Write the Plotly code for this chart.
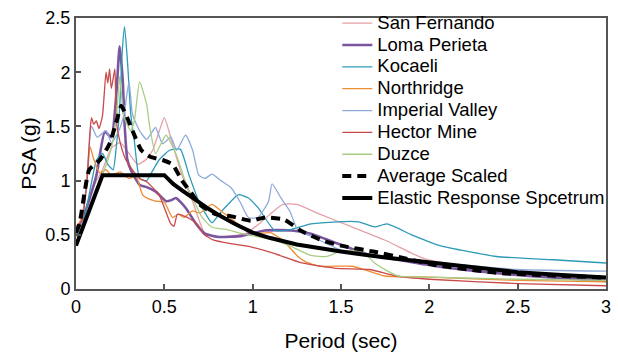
import plotly.graph_objects as go

# ---------------- data ----------------
sf_T = [0, 0.05, 0.1, 0.15, 0.2, 0.25, 0.3, 0.35, 0.4, 0.434, 0.47, 0.5, 0.546, 0.6, 0.66, 0.73, 0.8, 0.88, 0.96, 1.05, 1.17, 1.25, 1.38, 1.565, 1.75, 1.9, 1.99, 2.25, 2.5, 3.0]
sf_v = [0.55, 0.7, 0.95, 1.1, 1.3, 1.35, 1.25, 1.15, 1.2, 1.28, 1.45, 1.58, 1.34, 1.05, 0.81, 0.51, 0.48, 0.49, 0.51, 0.62, 0.78, 0.78, 0.69, 0.57, 0.45, 0.33, 0.27, 0.2, 0.15, 0.10]

lp_T = [0, 0.04, 0.08, 0.116, 0.163, 0.2, 0.228, 0.247, 0.265, 0.275, 0.29, 0.31, 0.36, 0.40, 0.45, 0.51, 0.54, 0.565, 0.62, 0.68, 0.73, 0.81, 0.94, 1.07, 1.22, 1.33, 1.48, 1.65, 1.82, 2.04, 2.3, 2.56, 3.0]
lp_v = [0.50, 0.66, 0.85, 1.05, 1.45, 1.40, 1.79, 2.24, 1.91, 1.52, 1.20, 1.10, 0.96, 0.94, 0.90, 0.81, 0.82, 0.84, 0.75, 0.60, 0.51, 0.48, 0.49, 0.54, 0.54, 0.51, 0.42, 0.32, 0.27, 0.21, 0.16, 0.12, 0.075]

ko_T = [0, 0.03, 0.06, 0.09, 0.116, 0.15, 0.18, 0.21, 0.228, 0.247, 0.262, 0.275, 0.293, 0.31, 0.33, 0.36, 0.40, 0.43, 0.47, 0.53, 0.59, 0.64, 0.695, 0.77, 0.81, 0.86, 0.92, 0.976, 1.03, 1.125, 1.22, 1.33, 1.48, 1.6, 1.69, 1.76, 1.9, 2.06, 2.38, 2.7, 3.0]
ko_v = [0.5, 0.55, 0.75, 1.0, 1.19, 1.25, 1.15, 1.1, 1.31, 1.67, 2.2, 2.42, 2.06, 1.61, 1.37, 1.02, 1.0, 1.08, 1.19, 1.28, 1.29, 1.05, 0.81, 0.61, 0.69, 0.78, 0.87, 0.84, 0.75, 0.54, 0.55, 0.60, 0.62, 0.62, 0.573, 0.60, 0.50, 0.40, 0.30, 0.27, 0.24]

nr_T = [0, 0.03, 0.06, 0.08, 0.1, 0.135, 0.17, 0.2, 0.25, 0.3, 0.34, 0.376, 0.40, 0.45, 0.5, 0.546, 0.58, 0.61, 0.66, 0.70, 0.77, 0.82, 0.87, 0.95, 1.01, 1.10, 1.17, 1.256, 1.30, 1.38, 1.565, 1.75, 2.0, 2.5, 3.0]
nr_v = [0.55, 0.65, 0.95, 1.31, 1.2, 1.07, 1.1, 1.05, 1.08, 1.02, 1.04, 0.87, 0.84, 0.81, 0.80, 0.66, 0.69, 0.66, 0.72, 0.70, 0.78, 0.72, 0.66, 0.56, 0.51, 0.52, 0.45, 0.30, 0.25, 0.21, 0.21, 0.12, 0.11, 0.08, 0.065]

iv_T = [0, 0.03, 0.06, 0.088, 0.12, 0.17, 0.2, 0.24, 0.27, 0.30, 0.32, 0.36, 0.40, 0.45, 0.49, 0.537, 0.57, 0.62, 0.66, 0.695, 0.73, 0.77, 0.82, 0.88, 0.93, 0.976, 1.03, 1.09, 1.11, 1.16, 1.21, 1.256, 1.34, 1.5, 1.75, 2.0, 2.5, 3.0]
iv_v = [0.55, 0.6, 1.0, 1.50, 1.40, 1.46, 1.35, 1.45, 1.6, 1.91, 1.61, 1.46, 1.38, 1.49, 1.34, 1.40, 1.28, 1.42, 1.28, 1.05, 1.02, 1.06, 1.0, 0.93, 0.8, 0.66, 0.66, 0.81, 0.97, 0.84, 0.72, 0.54, 0.48, 0.36, 0.30, 0.25, 0.18, 0.165]

hm_T = [0, 0.03, 0.06, 0.079, 0.088, 0.1, 0.115, 0.13, 0.15, 0.17, 0.18, 0.19, 0.2, 0.22, 0.228, 0.25, 0.28, 0.32, 0.36, 0.40, 0.47, 0.5, 0.537, 0.555, 0.574, 0.63, 0.686, 0.72, 0.78, 0.87, 0.985, 1.116, 1.28, 1.47, 1.66, 1.81, 2.0, 2.5, 3.0]
hm_v = [0.58, 0.62, 0.95, 1.45, 1.58, 1.52, 1.55, 1.48, 1.6, 2.0, 1.9, 2.03, 1.85, 2.03, 1.55, 1.35, 1.2, 1.1, 1.02, 0.99, 0.87, 0.75, 0.60, 0.58, 0.69, 0.66, 0.60, 0.51, 0.45, 0.42, 0.39, 0.33, 0.24, 0.19, 0.18, 0.12, 0.09, 0.05, 0.03]

dz_T = [0, 0.05, 0.1, 0.15, 0.2, 0.23, 0.247, 0.27, 0.31, 0.33, 0.36, 0.40, 0.415, 0.45, 0.49, 0.51, 0.565, 0.62, 0.714, 0.77, 0.85, 0.94, 1.125, 1.22, 1.33, 1.42, 1.5, 1.62, 1.69, 1.82, 2.0, 2.5, 3.0]
dz_v = [0.48, 0.6, 0.85, 1.05, 1.3, 1.6, 1.96, 1.6, 1.46, 1.55, 1.91, 1.70, 1.52, 1.25, 1.37, 1.42, 1.25, 0.99, 0.66, 0.57, 0.55, 0.51, 0.45, 0.39, 0.31, 0.30, 0.35, 0.35, 0.24, 0.12, 0.11, 0.09, 0.08]

avg_T = [0, 0.02, 0.075, 0.135, 0.19, 0.23, 0.256, 0.29, 0.32, 0.37, 0.42, 0.49, 0.546, 0.6, 0.66, 0.7, 0.79, 0.88, 0.99, 1.07, 1.18, 1.27, 1.39, 1.5, 1.69, 1.87, 2.04, 2.38, 3.0]
avg_v = [0.52, 0.6, 1.10, 1.19, 1.34, 1.55, 1.69, 1.58, 1.46, 1.28, 1.22, 1.19, 1.15, 1.0, 0.87, 0.78, 0.69, 0.67, 0.63, 0.66, 0.64, 0.54, 0.45, 0.40, 0.343, 0.28, 0.22, 0.15, 0.105]

el_T = [0, 0.15, 0.5, 0.55, 0.6, 0.65, 0.7, 0.75, 0.8, 0.85, 0.9, 1.0, 1.1, 1.25, 1.5, 1.75, 2.0, 2.25, 2.5, 2.75, 3.0]
el_v = [0.40, 1.05, 1.05, 0.97, 0.91, 0.85, 0.79, 0.74, 0.69, 0.64, 0.60, 0.52, 0.47, 0.41, 0.345, 0.29, 0.245, 0.195, 0.155, 0.13, 0.105]

names = ["San Fernando", "Loma Perieta", "Kocaeli", "Northridge", "Imperial Valley",
         "Hector Mine", "Duzce", "Average Scaled", "Elastic Response Spcetrum"]
colors = ["#e6a0a6", "#7a55a0", "#2c9ab7", "#f08c32", "#8eaadb", "#c94a48", "#a9cc85", "black", "black"]
widths = [1.3, 2.6, 1.3, 1.3, 1.3, 1.3, 1.3, 4, 4]
xs = [sf_T, lp_T, ko_T, nr_T, iv_T, hm_T, dz_T, avg_T, el_T]
ys = [sf_v, lp_v, ko_v, nr_v, iv_v, hm_v, dz_v, avg_v, el_v]

FONT = "Liberation Sans, Arial, sans-serif"

fig = go.Figure()
for i, n in enumerate(names):
    dash = "9px,6px" if i == 7 else "solid"
    shape = "linear" if i == 8 else "spline"
    fig.add_trace(go.Scatter(
        x=xs[i], y=ys[i], mode="lines", name='<span style="font-size:18.5px">' + n + "</span>",
        line=dict(color=colors[i], width=widths[i], dash=dash, shape=shape,
                  smoothing=0.5 if shape == "spline" else None),
    ))

axis_common = dict(
    showline=True, linecolor="#555", linewidth=2, mirror=True,
    ticks="inside", ticklen=5, tickwidth=1.5, tickcolor="#555",
    showgrid=False, zeroline=False,
    tickfont=dict(family=FONT, size=18, color="black"),
    dtick=0.5,
)

fig.update_layout(
    width=618, height=356,
    margin=dict(l=76, r=7, t=11, b=66),
    paper_bgcolor="white", plot_bgcolor="white",
    font=dict(family=FONT, color="black"),
    xaxis=dict(range=[0, 3], tick0=0,
               title=dict(text="Period (sec)", font=dict(family=FONT, size=21), standoff=18),
               **axis_common),
    yaxis=dict(range=[0, 2.5], tick0=0,
               title=dict(text="PSA (g)", font=dict(family=FONT, size=21), standoff=3),
               **axis_common),
    legend=dict(x=0.493, y=0.276, xanchor="left", yanchor="bottom",
                bgcolor="rgba(255,255,255,0)", borderwidth=0,
                font=dict(family=FONT, size=14.5, color="black"),
                itemwidth=30, tracegroupgap=0),
    showlegend=True,
)

fig.write_html("out.html")
